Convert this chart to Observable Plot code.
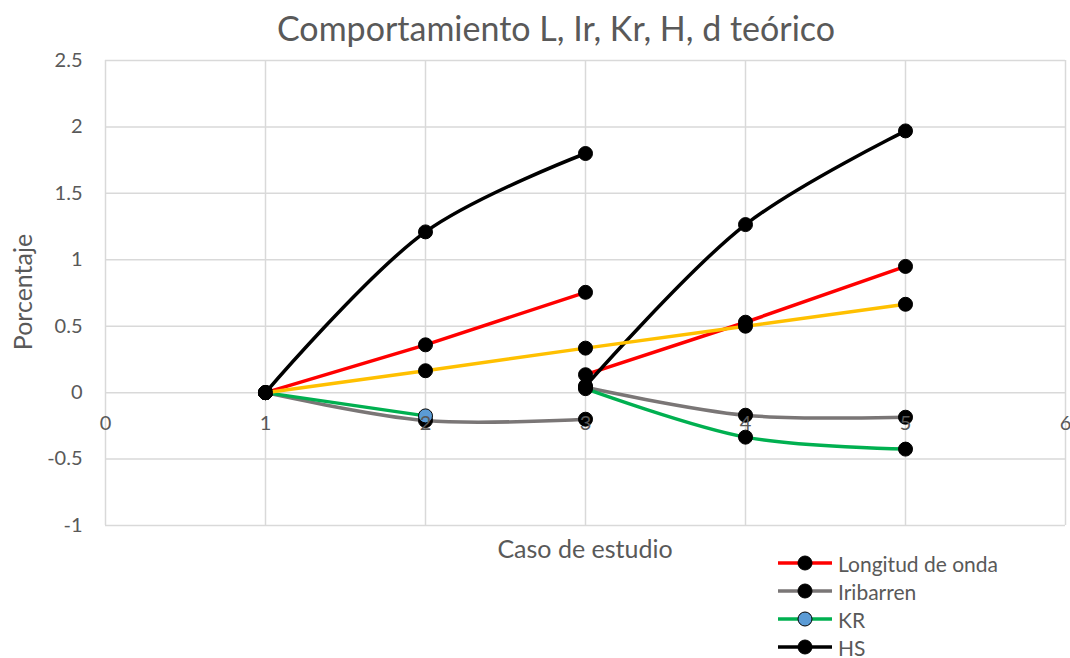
<!DOCTYPE html>
<html>
<head>
<meta charset="utf-8">
<script src="https://cdn.jsdelivr.net/npm/d3@7"></script>
<script src="https://cdn.jsdelivr.net/npm/@observablehq/plot@0.6"></script>
<style>
  html, body { margin: 0; padding: 0; background: #fff; }
  #wrap { position: relative; width: 1070px; height: 658px; overflow: hidden; font-family: Lato, "Open Sans", sans-serif; color: #595959; }
  #title { position: absolute; top: 7px; left: 0; width: 1112px; text-align: center; font-size: 34px; line-height: 42px; }
  #xlabel { position: absolute; top: 533px; left: 105px; width: 960px; text-align: center; font-size: 25px; line-height: 30px; }
  #ylabel { position: absolute; left: 22px; top: 292px; transform: translate(-50%, -50%) rotate(-90deg); font-size: 25px; white-space: nowrap; }
  #legend { position: absolute; left: 776px; top: 549px; font-size: 21px; }
  .lg { display: flex; align-items: center; height: 28px; }
  .lg svg { margin-right: 4px; }
  .lg span { line-height: 1; }
</style>
</head>
<body>
<div id="wrap">
  <div id="chart"></div>
  <div id="title">Comportamiento L, Ir, Kr, H, d teórico</div>
  <div id="xlabel">Caso de estudio</div>
  <div id="ylabel">Porcentaje</div>
  <div id="legend"></div>
</div>
<script>
// ---- data ----
const xTicks = [0, 1, 2, 3, 4, 5, 6];
const yTicks = [-1, -0.5, 0, 0.5, 1, 1.5, 2, 2.5];

const xFirst = [1, 2, 3];
const xSecond = [3, 4, 5];
const xKrFirst = [1, 2];
const xD = [1, 2, 3, 4, 5];

const longitudFirst = [0, 0.36, 0.755];
const longitudSecond = [0.135, 0.53, 0.95];
const iribarrenFirst = [0, -0.21, -0.2];
const iribarrenSecond = [0.04, -0.17, -0.185];
const krFirst = [0, -0.175];
const krSecond = [0.03, -0.335, -0.425];
const hsFirst = [0, 1.21, 1.8];
const hsSecond = [0.05, 1.265, 1.97];
const dValues = [0, 0.165, 0.335, 0.5, 0.665];

const seriesNames = ["Longitud de onda", "Iribarren", "KR", "HS", "d"];
const seriesColors = ["#ff0000", "#7a7676", "#00b050", "#000000", "#ffc000"];
const legendNames = ["Longitud de onda", "Iribarren", "KR", "HS"];

// ---- build tables ----
function seg(name, seg, xs, ys, marker) {
  return xs.map((x, i) => ({name, seg, x, y: ys[i], marker}));
}
const series = [
  {name: "Longitud de onda", curve: "linear", rows: [...seg("Longitud de onda", "a", xFirst, longitudFirst, "#000"), ...seg("Longitud de onda", "b", xSecond, longitudSecond, "#000")]},
  {name: "Iribarren", curve: "catmull-rom", rows: [...seg("Iribarren", "a", xFirst, iribarrenFirst, "#000"), ...seg("Iribarren", "b", xSecond, iribarrenSecond, "#000")]},
  {name: "KR", curve: "catmull-rom", rows: [...seg("KR", "a", xKrFirst, krFirst, "#5b9bd5"), ...seg("KR", "b", xSecond, krSecond, "#000")]},
  {name: "HS", curve: "catmull-rom", rows: [...seg("HS", "a", xFirst, hsFirst, "#000"), ...seg("HS", "b", xSecond, hsSecond, "#000")]},
  {name: "d", curve: "linear", rows: seg("d", "a", xD, dValues, "#000")}
];
const colorOf = n => seriesColors[seriesNames.indexOf(n)];

const marks = [
  Plot.gridY(yTicks, {stroke: "#d9d9d9", strokeOpacity: 1, strokeWidth: 1.5}),
  Plot.gridX(xTicks, {stroke: "#d9d9d9", strokeOpacity: 1, strokeWidth: 1.5}),
  Plot.axisY(yTicks, {tickSize: 0, tickPadding: 23, tickFormat: d => String(d), fontSize: 20, fill: "#595959", label: null})
];
for (const s of series) {
  marks.push(Plot.line(s.rows, {x: "x", y: "y", z: "seg", stroke: colorOf(s.name), strokeWidth: 3.5, curve: s.curve}));
  marks.push(Plot.dot(s.rows, {x: "x", y: "y", r: 7, fill: "marker", stroke: "#000", strokeWidth: 1}));
}
// x-axis tick labels sit on the y = 0 line, drawn above the series
marks.push(Plot.text(xTicks, {x: d => d, y: () => 0, dy: 31, text: d => String(d), fontSize: 20, fill: "#595959"}));

const chart = Plot.plot({
  width: 1070,
  height: 658,
  marginTop: 60,
  marginLeft: 105,
  marginRight: 5,
  marginBottom: 133,
  x: {domain: [0, 6], axis: null},
  y: {domain: [-1, 2.5], axis: null},
  style: {fontFamily: "Lato, 'Open Sans', sans-serif", fontSize: "20px", color: "#595959", background: "#fff", overflow: "visible"},
  marks
});
document.getElementById("chart").appendChild(chart);

// ---- legend ----
const legend = d3.select("#legend");
for (const name of legendNames) {
  const row = legend.append("div").attr("class", "lg");
  const svg = row.append("svg").attr("width", 58).attr("height", 18);
  svg.append("line").attr("x1", 2).attr("x2", 56).attr("y1", 9).attr("y2", 9).attr("stroke", colorOf(name)).attr("stroke-width", 3.5);
  svg.append("circle").attr("cx", 29).attr("cy", 9).attr("r", 7).attr("fill", name === "KR" ? "#5b9bd5" : "#000").attr("stroke", "#000");
  row.append("span").text(name);
}
</script>
</body>
</html>
